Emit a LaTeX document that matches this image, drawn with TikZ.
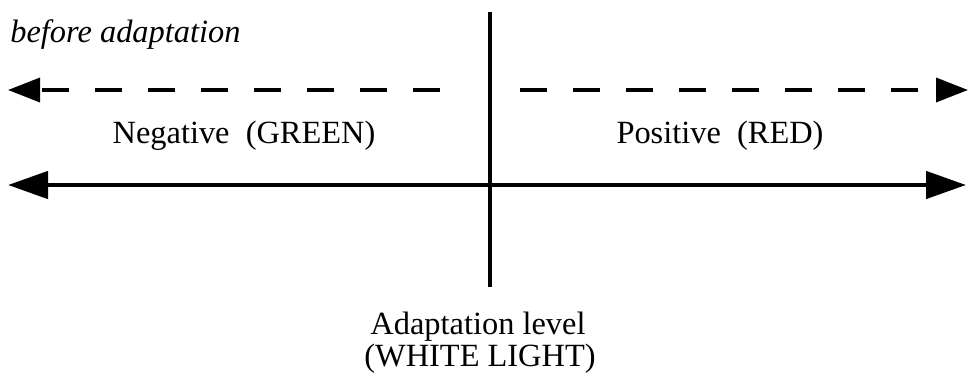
\documentclass[tikz,border=0pt]{standalone}
\usepackage{fontspec}
\setmainfont{Liberation Serif}
\usetikzlibrary{arrows.meta}
\begin{document}
\begin{tikzpicture}[x=0.5pt, y=-0.5pt,
    axis/.style={line width=2.3pt},
    level/.style={line width=2pt},
    shifted/.style={line width=1.8pt, dash pattern=on 13.5pt off 13pt},
    bigtip/.tip={Triangle[length=20pt, width=13.5pt]},
    smalltip/.tip={Triangle[length=16pt, width=12pt]},
    label/.style={font=\fontsize{16.2}{18}\selectfont, anchor=base, inner sep=0pt}]
  \useasboundingbox (0,0) rectangle (968,385);
  % End points of the axes; the dashed axis is cut at the adaptation level.
  \coordinate (solidL) at (8,185);
  \coordinate (solidR) at (966,185);
  \coordinate (dashL) at (8,90);
  \coordinate (dashLin) at (440,90);
  \coordinate (dashRin) at (520,90);
  \coordinate (dashR) at (968,90);
  \coordinate (levelT) at (490,12);
  \coordinate (levelB) at (490,287);

  \draw[level] (levelT) -- (levelB);
  \draw[axis, bigtip-bigtip] (solidL) -- (solidR);
  \draw[shifted, -smalltip] (dashLin) -- (dashL);
  \draw[shifted, -smalltip] (dashRin) -- (dashR);

  \node[label, anchor=base west, font=\fontsize{16.2}{18}\selectfont\itshape] (before) at (10,43) {before adaptation};
  \node[label] (negative) at (244,143) {Negative\ \ (GREEN)};
  \node[label] (positive) at (720,143) {Positive\ \ (RED)};
  \node[label] (adapt) at (478,334) {Adaptation level};
  \node[label] (white) at (480,366) {(WHITE LIGHT)};
\end{tikzpicture}
\end{document}
